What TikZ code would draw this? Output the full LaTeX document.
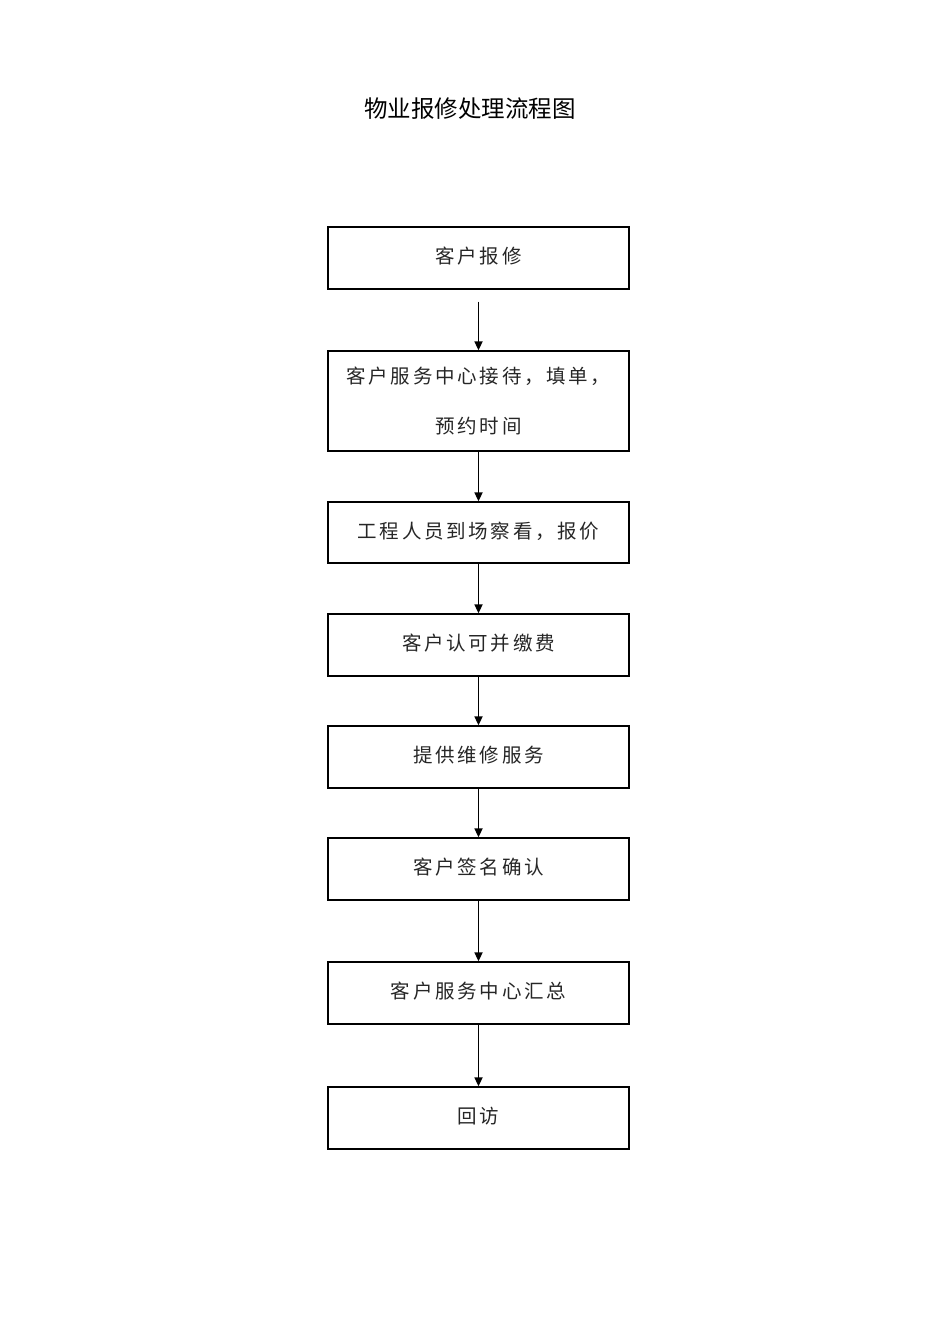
\documentclass[tikz,border=0pt]{standalone}
\usepackage{fontspec}
\newfontfamily\cjktitle{Noto Sans CJK SC}
\newfontfamily\cjkbox[LetterSpace=14]{Noto Sans CJK SC}
\usetikzlibrary{arrows.meta}
\begin{document}
\begin{tikzpicture}[x=1pt,y=-1pt,
  stepbox/.style={draw=black,line width=1.3pt,minimum width=301pt,inner sep=0pt,
    font=\cjkbox\fontsize{19.5}{24}\selectfont,text=black!85},
  flow/.style={line width=1.7pt,-{Triangle[length=9pt,width=8pt]}}]
\useasboundingbox (0,0) rectangle (950,1344);
\node[font=\cjktitle\fontsize{23.5}{28}\selectfont] (title) at (470,109) {物业报修处理流程图};
\node[stepbox,minimum height=62pt] (b1) at (478.5,258) {\raisebox{5pt}{客户报修}};
\node[stepbox,minimum height=100pt,align=center] (b2) at (478.5,401)
  {客户服务中心接待，填单，\\[26pt]预约时间};
\node[stepbox,minimum height=61pt] (b3) at (478.5,532.5) {\raisebox{5pt}{工程人员到场察看，报价}};
\node[stepbox,minimum height=62pt] (b4) at (478.5,645) {\raisebox{5pt}{客户认可并缴费}};
\node[stepbox,minimum height=62pt] (b5) at (478.5,757) {\raisebox{5pt}{提供维修服务}};
\node[stepbox,minimum height=62pt] (b6) at (478.5,869) {\raisebox{5pt}{客户签名确认}};
\node[stepbox,minimum height=62pt] (b7) at (478.5,993) {\raisebox{5pt}{客户服务中心汇总}};
\node[stepbox,minimum height=62pt] (b8) at (478.5,1118) {\raisebox{5pt}{回访}};
\draw[flow] ([yshift=-12pt]b1.south) -- (b2.north);
\draw[flow] (b2) -- (b3);
\draw[flow] (b3) -- (b4);
\draw[flow] (b4) -- (b5);
\draw[flow] (b5) -- (b6);
\draw[flow] (b6) -- (b7);
\draw[flow] (b7) -- (b8);
\end{tikzpicture}
\end{document}
